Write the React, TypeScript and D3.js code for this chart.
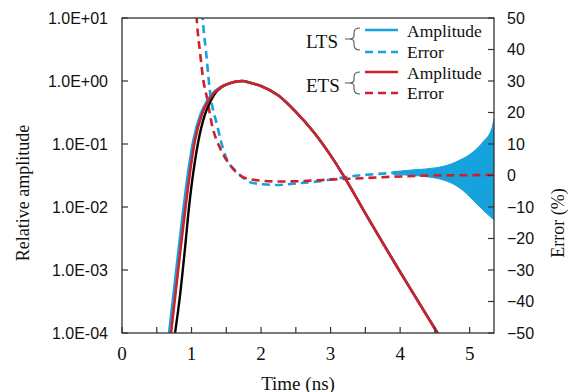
import * as d3 from 'd3';

// ---------------------------------------------------------------------------
// Data
// ---------------------------------------------------------------------------
const X_TICKS = [0, 1, 2, 3, 4, 5];
const X_MINOR = [0.5, 1.5, 2.5, 3.5, 4.5];
const AMP_TICKS = [1e1, 1e0, 1e-1, 1e-2, 1e-3, 1e-4];
const ERR_TICKS = [50, 40, 30, 20, 10, 0, -10, -20, -30, -40, -50];

// falling edge after the peak is shared by all three amplitude curves
const FALL_T = [1.85, 2.0, 2.25, 2.5, 2.75, 3.0, 3.25, 3.5, 3.75, 4.0, 4.25, 4.5, 4.7];
const FALL_A = [0.933, 0.832, 0.589, 0.324, 0.158, 0.066, 0.024, 7.9e-3, 2.7e-3, 9.3e-4, 3.3e-4, 1.17e-4, 5.1e-5];

// reference (black)
const REF_T = [0.763, 0.835, 0.906, 0.964, 1.007, 1.094, 1.19, 1.26, 1.33, 1.43, 1.54, 1.64, 1.727];
const REF_A = [1.0e-4, 4.0e-4, 2.2e-3, 1.0e-2, 0.025, 0.105, 0.288, 0.447, 0.617, 0.794, 0.912, 0.977, 1.0];

// LTS amplitude (blue)
const LTS_T = [0.676, 0.748, 0.82, 0.885, 0.928, 1.025, 1.13, 1.21, 1.29, 1.41, 1.54, 1.64, 1.727];
const LTS_A = [1.0e-4, 5.0e-4, 2.5e-3, 1.0e-2, 0.024, 0.115, 0.3, 0.457, 0.617, 0.794, 0.912, 0.977, 1.0];

// ETS amplitude (red)
const ETS_T = [0.705, 0.777, 0.849, 0.914, 0.957, 1.05, 1.151, 1.23, 1.309, 1.42, 1.54, 1.64, 1.727];
const ETS_A = [1.0e-4, 5.0e-4, 2.5e-3, 1.0e-2, 0.024, 0.115, 0.3, 0.457, 0.617, 0.794, 0.912, 0.977, 1.0];

// errors (%)
const LTS_ERR_T = [1.14, 1.165, 1.209, 1.266, 1.367, 1.482, 1.655, 1.885, 2.23, 2.56, 2.85, 3.13, 3.4, 3.75, 4.1, 4.5, 5.0, 5.35];
const LTS_ERR = [56, 48.4, 39.2, 26.5, 16.0, 6.5, 1.1, -2.4, -3.0, -2.4, -1.8, -0.8, 0, 0.6, 1.1, 1.0, 1.0, 1.5];
const ETS_ERR_T = [1.06, 1.079, 1.122, 1.165, 1.223, 1.295, 1.41, 1.554, 1.741, 1.94, 2.27, 2.56, 3.0, 3.5, 4.0, 4.5, 5.0, 5.35];
const ETS_ERR = [55, 48.4, 39.2, 30.9, 24.6, 16.0, 8.7, 3.3, -0.5, -1.5, -1.9, -1.8, -1.3, -0.8, -0.3, 0, 0.1, 0.2];

// envelope of the LTS error oscillation at late time
const OSC_T = [3.9, 4.2, 4.5, 4.62, 4.86, 5.05, 5.19, 5.32, 5.35];
const OSC_HI = [1.2, 1.8, 2.4, 2.9, 4.9, 7.5, 10.6, 15, 18];
const OSC_LO = [0.3, 0.0, -0.8, -1.4, -4.0, -7.8, -10.9, -13.5, -14];

// ---------------------------------------------------------------------------
// Style
// ---------------------------------------------------------------------------
const BLUE = '#16a2dc';
const RED = '#d0202a';
const AXIS = '#333333';
const SANS = '"Liberation Sans", Arial, sans-serif';
const SERIF = '"Liberation Serif", "Times New Roman", serif';

const W = 578;
const H = 392;
const L = 122;
const R = 494;
const T = 18;
const B = 333;

export default function App() {
  const x = d3.scaleLinear().domain([0, 5.35]).range([L, R]);
  const yA = d3.scaleLog().domain([1e-4, 1e1]).range([B, T]);
  const yE = d3.scaleLinear().domain([-50, 50]).range([B, T]);

  const ampLine = d3
    .line<[number, number]>()
    .x((d) => x(d[0]))
    .y((d) => yA(d[1]))
    .curve(d3.curveMonotoneX);
  const errLine = d3
    .line<[number, number]>()
    .x((d) => x(d[0]))
    .y((d) => yE(d[1]))
    .curve(d3.curveMonotoneX);
  const band = d3
    .area<number>()
    .x((_, i) => x(OSC_T[i]))
    .y0((_, i) => yE(OSC_LO[i]))
    .y1((_, i) => yE(OSC_HI[i]))
    .curve(d3.curveMonotoneX);

  const amp = (ts: number[], as: number[]) => {
    const tt = [...ts, ...FALL_T];
    const aa = [...as, ...FALL_A];
    return ampLine(tt.map((t, i) => [t, aa[i]] as [number, number])) ?? '';
  };
  const err = (ts: number[], es: number[]) =>
    errLine(ts.map((t, i) => [t, es[i]] as [number, number])) ?? '';

  const fmtExp = (v: number) => {
    const e = Math.round(Math.log10(v));
    return `1.0E${e >= 0 ? '+' : '-'}${String(Math.abs(e)).padStart(2, '0')}`;
  };
  const fmtErr = (v: number) => (v < 0 ? `\u2212${-v}` : `${v}`);

  // little curly bracket in the legend
  const brace = (cy: number) =>
    `M360,${cy - 11} Q354,${cy - 11} 354,${cy - 6} L354,${cy - 3} Q354,${cy} 349,${cy} ` +
    `Q354,${cy} 354,${cy + 3} L354,${cy + 6} Q354,${cy + 11} 360,${cy + 11} M345,${cy} L349,${cy}`;

  return (
    <svg width={W} height={H} style={{ position: 'absolute', left: 0, top: 0, background: '#fff' }}>
      <defs>
        <clipPath id="plot">
          <rect x={L} y={T} width={R - L} height={B - T} />
        </clipPath>
      </defs>

      {/* curves */}
      <g clipPath="url(#plot)" fill="none" strokeLinejoin="round">
        <path d={band(OSC_T) ?? ''} fill={BLUE} stroke={BLUE} strokeWidth={1} />
        <path d={err(LTS_ERR_T, LTS_ERR)} stroke={BLUE} strokeWidth={2.6} strokeDasharray="8,5" />
        <path d={err(ETS_ERR_T, ETS_ERR)} stroke={RED} strokeWidth={2.6} strokeDasharray="8,5" />
        <path d={amp(REF_T, REF_A)} stroke="#000" strokeWidth={2.4} />
        <path d={amp(LTS_T, LTS_A)} stroke={BLUE} strokeWidth={2.4} />
        <path d={amp(ETS_T, ETS_A)} stroke={RED} strokeWidth={2.6} />
      </g>

      {/* frame */}
      <rect x={L} y={T} width={R - L} height={B - T} fill="none" stroke={AXIS} strokeWidth={1.3} />

      {/* x axis */}
      {[...X_TICKS, ...X_MINOR].map((t) => (
        <line key={`xt${t}`} x1={x(t)} x2={x(t)} y1={B} y2={B - 6} stroke={AXIS} strokeWidth={1.2} />
      ))}
      {X_TICKS.map((t) => (
        <text key={`xl${t}`} x={x(t)} y={353} textAnchor="middle" dominantBaseline="central"
          fontFamily={SERIF} fontSize={19} fill="#111">
          {t}
        </text>
      ))}
      <text x={298} y={383} textAnchor="middle" dominantBaseline="central" fontFamily={SERIF} fontSize={19} fill="#111">
        Time (ns)
      </text>

      {/* left axis */}
      {AMP_TICKS.map((v) => (
        <g key={`ya${v}`}>
          <line x1={L} x2={L + 6} y1={yA(v)} y2={yA(v)} stroke={AXIS} strokeWidth={1.2} />
          <text x={108} y={yA(v)} textAnchor="end" dominantBaseline="central" fontFamily={SANS} fontSize={16} fill="#111">
            {fmtExp(v)}
          </text>
        </g>
      ))}
      <text transform="translate(23,193) rotate(-90)" textAnchor="middle" dominantBaseline="central"
        fontFamily={SERIF} fontSize={18} fill="#111">
        Relative amplitude
      </text>

      {/* right axis */}
      {ERR_TICKS.map((v) => (
        <g key={`ye${v}`}>
          <line x1={R} x2={R - 6} y1={yE(v)} y2={yE(v)} stroke={AXIS} strokeWidth={1.2} />
          <text x={507} y={yE(v)} textAnchor="start" dominantBaseline="central" fontFamily={SANS} fontSize={16} fill="#111">
            {fmtErr(v)}
          </text>
        </g>
      ))}
      <text transform="translate(558,223) rotate(-90)" textAnchor="middle" dominantBaseline="central"
        fontFamily={SERIF} fontSize={18} fill="#111">
        Error (%)
      </text>

      {/* legend */}
      <g fontFamily={SERIF} fontSize={19} fill="#111">
        <text x={306} y={48}>LTS</text>
        <path d={brace(39)} fill="none" stroke="#555" strokeWidth={1.1} />
        <line x1={365} x2={398} y1={30} y2={30} stroke={BLUE} strokeWidth={2.6} />
        <line x1={365} x2={398} y1={52} y2={52} stroke={BLUE} strokeWidth={2.6} strokeDasharray="8,5" />
        <text x={407} y={37} fontSize={17.5}>Amplitude</text>
        <text x={407} y={58} fontSize={17.5}>Error</text>

        <text x={306} y={92}>ETS</text>
        <path d={brace(83)} fill="none" stroke="#555" strokeWidth={1.1} />
        <line x1={365} x2={398} y1={72} y2={72} stroke={RED} strokeWidth={2.6} />
        <line x1={365} x2={398} y1={93} y2={93} stroke={RED} strokeWidth={2.6} strokeDasharray="8,5" />
        <text x={407} y={79} fontSize={17.5}>Amplitude</text>
        <text x={407} y={99} fontSize={17.5}>Error</text>
      </g>
    </svg>
  );
}
